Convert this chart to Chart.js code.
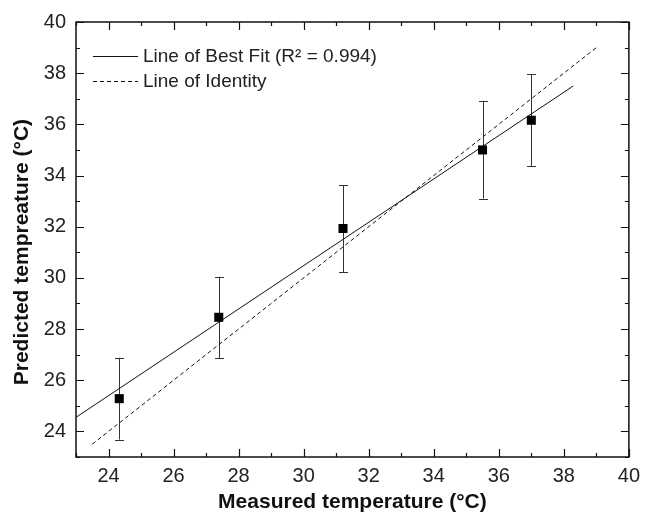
<!DOCTYPE html>
<html>
<head>
<meta charset="utf-8">
<script src="https://cdn.jsdelivr.net/npm/chart.js@4/dist/chart.umd.min.js"></script>
<style>
  html, body { margin: 0; padding: 0; background: #fff; }
  #wrap { width: 647px; height: 517px; }
</style>
</head>
<body>
<div id="wrap"><canvas id="tempChart"></canvas></div>
<script>
// measured vs predicted values, with error bar limits
const measured = [24.33, 27.39, 31.21, 35.5, 37.0];
const predicted = [25.28, 28.46, 31.93, 35.0, 36.16];
const errLow = [23.68, 26.85, 30.23, 33.1, 34.37];
const errHigh = [26.88, 30.05, 33.63, 36.92, 37.97];

// end points of the two lines
const fitX = [23, 38.29];
const fitY = [24.55, 37.5];
const identX = [23.5, 39];
const identY = [23.5, 39];

const axisMin = 23;
const axisMax = 40;

const FONT = "'Liberation Sans', Arial, sans-serif";

const toPoints = (xs, ys) => xs.map((x, i) => ({ x: x, y: ys[i] }));

// error bars under the markers
const errorBars = {
    id: "errorBars",
    beforeDatasetsDraw(chart) {
        const { ctx, scales: { x, y } } = chart;
        ctx.save();
        ctx.strokeStyle = "#333";
        ctx.lineWidth = 1;
        measured.forEach((m, i) => {
            const px = Math.round(x.getPixelForValue(m)) + 0.5;
            const lo = y.getPixelForValue(errLow[i]);
            const hi = y.getPixelForValue(errHigh[i]);
            ctx.beginPath();
            ctx.moveTo(px, lo);
            ctx.lineTo(px, hi);
            ctx.moveTo(px - 4.5, Math.round(lo) + 0.5);
            ctx.lineTo(px + 4.5, Math.round(lo) + 0.5);
            ctx.moveTo(px - 4.5, Math.round(hi) + 0.5);
            ctx.lineTo(px + 4.5, Math.round(hi) + 0.5);
            ctx.stroke();
        });
        ctx.restore();
    }
};

// closed frame with inward ticks on all four sides + legend inside the plot
const frameAndLegend = {
    id: "frameAndLegend",
    afterDraw(chart) {
        const { ctx, chartArea: a, scales: { x, y } } = chart;
        ctx.save();
        ctx.strokeStyle = "#111";
        ctx.lineWidth = 1.5;
        ctx.strokeRect(a.left, a.top, a.right - a.left, a.bottom - a.top);

        ctx.lineWidth = 1.2;
        ctx.beginPath();
        x.ticks.forEach(t => {
            const px = Math.round(x.getPixelForValue(t.value)) + 0.5;
            const len = t.value % 2 === 0 ? 8 : 4;
            ctx.moveTo(px, a.bottom);
            ctx.lineTo(px, a.bottom - len);
            ctx.moveTo(px, a.top);
            ctx.lineTo(px, a.top + len);
        });
        y.ticks.forEach(t => {
            const py = Math.round(y.getPixelForValue(t.value)) + 0.5;
            const len = t.value % 2 === 0 ? 8 : 4;
            ctx.moveTo(a.left, py);
            ctx.lineTo(a.left + len, py);
            ctx.moveTo(a.right, py);
            ctx.lineTo(a.right - len, py);
        });
        ctx.stroke();

        // legend
        ctx.font = "19px " + FONT;
        ctx.textBaseline = "middle";
        ctx.fillStyle = "#222";
        let rowY = a.top + 34;
        chart.data.datasets.forEach(ds => {
            if (!ds.showLine) return;
            const ly = Math.round(rowY) + 0.5;
            ctx.strokeStyle = ds.borderColor;
            ctx.lineWidth = 1;
            ctx.setLineDash(ds.borderDash || []);
            ctx.beginPath();
            ctx.moveTo(a.left + 17, ly);
            ctx.lineTo(a.left + 62, ly);
            ctx.stroke();
            ctx.setLineDash([]);
            ctx.fillText(ds.label, a.left + 67, rowY + 1);
            rowY += 25;
        });
        ctx.restore();
    }
};

const ctx = document.getElementById("tempChart").getContext("2d");

new Chart(ctx, {
    type: "scatter",
    data: {
        datasets: [
            {
                label: "Data",
                data: toPoints(measured, predicted),
                pointStyle: "rect",
                pointRadius: 6.4,
                pointHoverRadius: 6.4,
                backgroundColor: "#000",
                borderColor: "#000",
                borderWidth: 0,
                showLine: false
            },
            {
                label: "Line of Best Fit (R² = 0.994)",
                data: toPoints(fitX, fitY),
                showLine: true,
                borderColor: "#111",
                borderWidth: 1,
                pointRadius: 0
            },
            {
                label: "Line of Identity",
                data: toPoints(identX, identY),
                showLine: true,
                borderColor: "#111",
                borderWidth: 1,
                borderDash: [4, 3],
                pointRadius: 0
            }
        ]
    },
    options: {
        responsive: true,
        maintainAspectRatio: false,
        animation: false,
        layout: {
            padding: { left: 0, right: 12, top: 16, bottom: 0 }
        },
        plugins: {
            legend: { display: false },
            tooltip: { enabled: false }
        },
        scales: {
            x: {
                type: "linear",
                min: axisMin,
                max: axisMax,
                afterFit: s => { s.height = 60; },
                grid: { display: false, drawTicks: false },
                border: { display: false },
                ticks: {
                    stepSize: 1,
                    autoSkip: false,
                    maxRotation: 0,
                    padding: 7,
                    color: "#222",
                    font: { family: FONT, size: 20 },
                    callback: v => (v % 2 === 0 ? v : "")
                },
                title: {
                    display: true,
                    text: "Measured temperature (°C)",
                    color: "#111",
                    font: { family: FONT, size: 21, weight: "bold" },
                    padding: { top: 0, bottom: 2 }
                }
            },
            y: {
                type: "linear",
                min: axisMin,
                max: axisMax,
                afterFit: s => { s.width = 76; },
                grid: { display: false, drawTicks: false },
                border: { display: false },
                ticks: {
                    stepSize: 1,
                    autoSkip: false,
                    padding: 10,
                    color: "#222",
                    font: { family: FONT, size: 20 },
                    callback: v => (v % 2 === 0 ? v : "")
                },
                title: {
                    display: true,
                    // trailing spaces nudge the rotated title a little lower, as in the original
                    text: "Predicted tempreature (°C)\u2003\u2009",
                    color: "#111",
                    font: { family: FONT, size: 21, weight: "bold" },
                    padding: { top: 10, bottom: 0 }
                }
            }
        }
    },
    plugins: [errorBars, frameAndLegend]
});
</script>
</body>
</html>
